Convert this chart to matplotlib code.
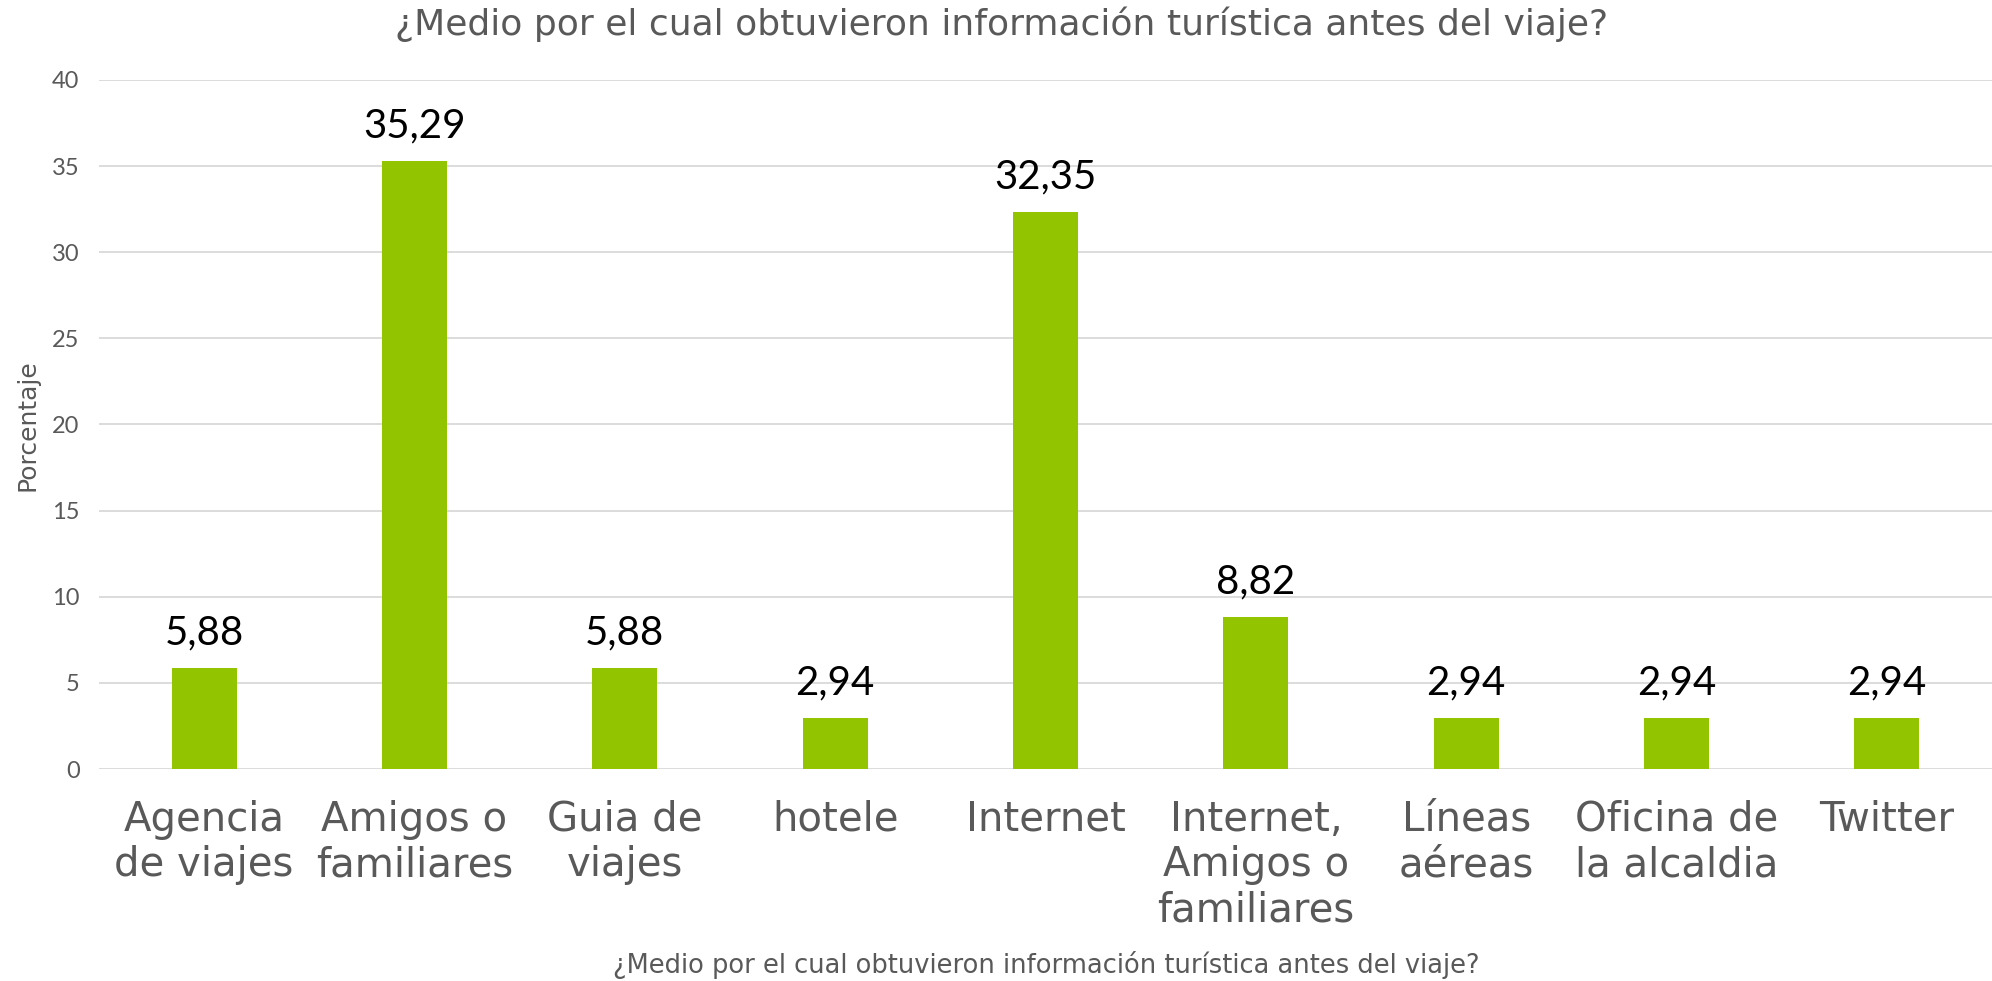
import matplotlib
matplotlib.use("Agg")
import matplotlib.pyplot as plt
import numpy as np

categories = [
    "Agencia\nde viajes",
    "Amigos o\nfamiliares",
    "Guia de\nviajes",
    "hotele",
    "Internet",
    "Internet,\nAmigos o\nfamiliares",
    "Líneas\naéreas",
    "Oficina de\nla alcaldia",
    "Twitter",
]
percentages = [5.88, 35.29, 5.88, 2.94, 32.35, 8.82, 2.94, 2.94, 2.94]
yticks = [0, 5, 10, 15, 20, 25, 30, 35, 40]
title = "¿Medio por el cual obtuvieron información turística antes del viaje?"

plt.rcParams["font.family"] = ["DejaVu Sans"]
num_font = ["Lato", "DejaVu Sans"]
gray = "#595959"

fig = plt.figure(figsize=(19.92, 9.81), dpi=100)
ax = fig.add_axes([0.0497, 0.2161, 0.9503, 0.7024])

x = np.arange(len(categories))
ax.bar(x, percentages, width=0.31, color="#92C500", zorder=3)

for xi, v in zip(x, percentages):
    ax.annotate(f"{v:.2f}".replace(".", ","), (xi, v), xytext=(0, 12),
                textcoords="offset points", ha="center", va="bottom",
                fontsize=29, color="black", family=num_font)

ax.set_xlim(-0.5, len(categories) - 0.5)
ax.set_ylim(0, 40)
ax.set_yticks(yticks)
ax.set_xticks(x)
ax.set_xticklabels(categories, fontsize=29, color=gray, linespacing=1.18, va="top")
ax.tick_params(axis="x", length=0, pad=22)
ax.tick_params(axis="y", length=0, pad=14, labelsize=17, labelcolor=gray)
for lbl in ax.get_yticklabels():
    lbl.set_family(num_font)
ax.grid(axis="y", color="#D9D9D9", linewidth=1.3, zorder=0)
for s in ax.spines.values():
    s.set_visible(False)

fig.text(0.5026, 0.975, title, ha="center", va="center", fontsize=26, color=gray)
fig.text(0.525, 0.016, title, ha="center", va="center", fontsize=18.5, color=gray)
fig.text(0.014, 0.567, "Porcentaje", ha="center", va="center", rotation=90,
         fontsize=18, color=gray)

fig.savefig("out.png", dpi=100)
